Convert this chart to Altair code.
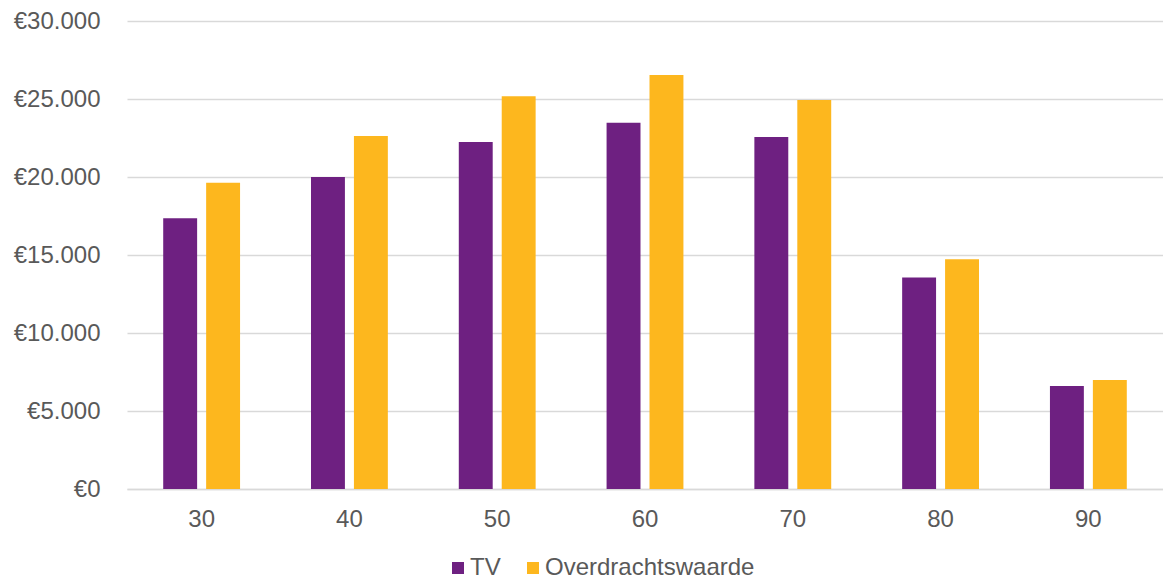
import altair as alt
import pandas as pd

ages = ["30", "40", "50", "60", "70", "80", "90"]
tv = [17350, 20000, 22250, 23480, 22560, 13550, 6600]
overdracht = [19630, 22630, 25170, 26540, 24940, 14720, 6990]
series = ["TV", "Overdrachtswaarde"]
colors = ["#6E2081", "#FDB71E"]

rows = []
for a, t, o in zip(ages, tv, overdracht):
    rows.append({"leeftijd": a, "serie": series[0], "waarde": t})
    rows.append({"leeftijd": a, "serie": series[1], "waarde": o})
df = pd.DataFrame(rows)

font = "Liberation Sans"
gray = "#595959"

chart = alt.Chart(df).mark_bar().encode(
    x=alt.X("leeftijd:N", sort=ages, title=None,
            scale=alt.Scale(paddingInner=0.48, paddingOuter=0.245),
            axis=alt.Axis(labelAngle=0, labelFontSize=24, labelFont=font, labelColor=gray,
                          labelPadding=18, ticks=False, grid=False,
                          domainColor="#d9d9d9", domainWidth=1.5)),
    xOffset=alt.XOffset("serie:N", sort=series,
                        scale=alt.Scale(paddingInner=0.21, paddingOuter=0)),
    y=alt.Y("waarde:Q", title=None,
            scale=alt.Scale(domain=[0, 30000], nice=False),
            axis=alt.Axis(values=[0, 5000, 10000, 15000, 20000, 25000, 30000],
                          labelExpr='"€" + replace(format(datum.value, ","), ",", ".")',
                          labelFontSize=24, labelFont=font, labelColor=gray, labelPadding=27,
                          ticks=False, domain=False, gridColor="#d9d9d9", gridWidth=1.5)),
    color=alt.Color("serie:N", sort=series,
                    scale=alt.Scale(domain=series, range=colors),
                    legend=alt.Legend(title=None, orient="none", legendX=319, legendY=535,
                                      direction="horizontal", symbolType="square",
                                      symbolSize=144, symbolStrokeWidth=0, padding=0,
                                      labelFontSize=24, labelFont=font, labelColor=gray,
                                      labelLimit=0, labelOffset=0, columnPadding=20)),
).properties(
    width=1036, height=468,
    background="white",
    autosize=alt.AutoSizeParams(type="none"),
    padding={"left": 127, "top": 21, "right": 0, "bottom": 89},
).configure_view(stroke=None)

chart.save("out.html", embed_options={"renderer": "svg", "actions": False})
